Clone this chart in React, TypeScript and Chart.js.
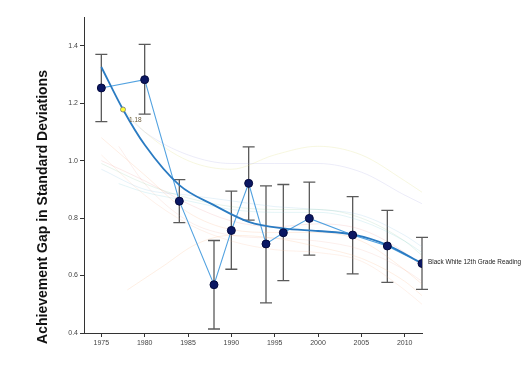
import React, { useEffect, useRef } from "react";
import { Chart, registerables } from "chart.js";

Chart.register(...registerables);

const years = [1975, 1980, 1984, 1988, 1990, 1992, 1994, 1996, 1999, 2004, 2008, 2012];
const gapValues = [1.253, 1.282, 0.859, 0.568, 0.757, 0.921, 0.71, 0.749, 0.799, 0.741, 0.703, 0.642];
const errHigh = [1.37, 1.405, 0.934, 0.722, 0.894, 1.048, 0.912, 0.917, 0.925, 0.875, 0.827, 0.733];
const errLow = [1.136, 1.162, 0.784, 0.414, 0.622, 0.793, 0.505, 0.582, 0.671, 0.606, 0.576, 0.552];

const smoothYears = [1975, 1977.5, 1980, 1984, 1988, 1992, 1996, 2000, 2004, 2008, 2012];
const smoothValues = [1.326, 1.178, 1.055, 0.915, 0.845, 0.787, 0.764, 0.755, 0.743, 0.706, 0.642];

const hoverYear = 1977.5;
const hoverValue = 1.178;
const hoverLabel = "1.18";
const seriesLabel = "Black White 12th Grade Reading";
const yTitle = "Achievement Gap in Standard Deviations";

const xTicks = [1975, 1980, 1985, 1990, 1995, 2000, 2005, 2010];
const yTicks = [0.4, 0.6, 0.8, 1.0, 1.2, 1.4];

// faint background series
const bgYears1 = [1977.5, 1980, 1985, 1990, 1995, 2000, 2005, 2010, 2012];
const bgPurple = [1.17, 1.1, 1.02, 0.99, 0.99, 0.99, 0.96, 0.88, 0.85];
const bgYellow = [1.18, 1.1, 1.0, 0.97, 1.02, 1.05, 1.02, 0.93, 0.89];
const bgYears2 = [1975, 1980, 1985, 1990, 1995, 2000, 2005, 2010, 2012];
const bgOrange = [1.08, 0.95, 0.82, 0.76, 0.75, 0.75, 0.72, 0.62, 0.57];
const bgRed = [1.0, 0.93, 0.85, 0.79, 0.77, 0.78, 0.76, 0.68, 0.63];
const bgGreen = [0.99, 0.92, 0.87, 0.84, 0.83, 0.83, 0.8, 0.72, 0.67];
const bgBlue = [0.97, 0.9, 0.88, 0.86, 0.84, 0.83, 0.81, 0.74, 0.7];
const bgPeach = [1.02, 0.88, 0.78, 0.72, 0.69, 0.68, 0.65, 0.55, 0.5];
const bgYears3 = [1977, 1980, 1985, 1990, 1995, 2000, 2005, 2010, 2012];
const bgCyan = [0.92, 0.89, 0.86, 0.83, 0.82, 0.82, 0.79, 0.72, 0.68];
const bgSalmon = [1.05, 0.92, 0.79, 0.74, 0.73, 0.72, 0.69, 0.62, 0.58];
const bgYears4 = [1978, 1982, 1986, 1990, 1995, 2000, 2005, 2010, 2012];
const bgOrangeLow = [0.55, 0.63, 0.71, 0.74, 0.73, 0.7, 0.66, 0.58, 0.53];

const FONT = "'Liberation Sans', Arial, sans-serif";

const pts = (xs: number[], ys: number[]) => xs.map((x, i) => ({ x, y: ys[i] }));

const faint = (xs: number[], ys: number[], color: string) => ({
  type: "line" as const,
  data: pts(xs, ys),
  borderColor: color,
  borderWidth: 1,
  pointRadius: 0,
  cubicInterpolationMode: "monotone" as const,
  fill: false,
});

export default function App() {
  const ref = useRef<HTMLCanvasElement | null>(null);

  useEffect(() => {
    if (!ref.current) return;

    const overlay = {
      id: "overlay",
      beforeDatasetsDraw(chart: any) {
        const ctx = chart.ctx;
        const xs = chart.scales.x;
        const ys = chart.scales.y;
        ctx.save();
        ctx.strokeStyle = "#5a5a5a";
        ctx.lineWidth = 1.3;
        years.forEach((yr, i) => {
          const px = xs.getPixelForValue(yr);
          const top = ys.getPixelForValue(errHigh[i]);
          const bot = ys.getPixelForValue(errLow[i]);
          ctx.beginPath();
          ctx.moveTo(px, top);
          ctx.lineTo(px, bot);
          ctx.moveTo(px - 6, top);
          ctx.lineTo(px + 6, top);
          ctx.moveTo(px - 6, bot);
          ctx.lineTo(px + 6, bot);
          ctx.stroke();
        });
        ctx.restore();
      },
      afterDraw(chart: any) {
        const ctx = chart.ctx;
        const xs = chart.scales.x;
        const ys = chart.scales.y;
        ctx.save();
        const hx = xs.getPixelForValue(hoverYear);
        const hy = ys.getPixelForValue(hoverValue);
        ctx.beginPath();
        ctx.arc(hx, hy, 2.5, 0, Math.PI * 2);
        ctx.fillStyle = "#ffff33";
        ctx.fill();
        ctx.strokeStyle = "#777";
        ctx.lineWidth = 0.8;
        ctx.stroke();
        ctx.fillStyle = "#6a5a3a";
        ctx.font = `6.5px ${FONT}`;
        ctx.textAlign = "left";
        ctx.textBaseline = "middle";
        ctx.fillText(hoverLabel, hx + 6, hy + 11);
        const lx = xs.getPixelForValue(years[years.length - 1]);
        const ly = ys.getPixelForValue(gapValues[gapValues.length - 1]);
        ctx.fillStyle = "#222";
        ctx.font = `6.4px ${FONT}`;
        ctx.fillText(seriesLabel, lx + 6, ly - 1.5);
        ctx.translate(43, 207);
        ctx.rotate(-Math.PI / 2);
        ctx.textAlign = "center";
        ctx.fillStyle = "#111";
        ctx.font = `bold 14px ${FONT}`;
        ctx.fillText(yTitle, 0, 0);
        ctx.restore();
      },
    };

    const chart = new Chart(ref.current, {
      type: "line",
      data: {
        datasets: [
          {
            type: "line",
            data: pts(years, gapValues),
            showLine: false,
            pointRadius: 4,
            pointBackgroundColor: "#0b1763",
            pointBorderColor: "#03093d",
            pointBorderWidth: 1,
          } as any,
          {
            type: "line",
            data: pts(smoothYears, smoothValues),
            borderColor: "#2a7bc2",
            borderWidth: 1.8,
            pointRadius: 0,
            cubicInterpolationMode: "monotone",
            fill: false,
          },
          {
            type: "line",
            data: pts(years, gapValues),
            borderColor: "#52a2e0",
            borderWidth: 1.1,
            pointRadius: 0,
            tension: 0,
            fill: false,
          },
          faint(bgYears1, bgPurple, "rgba(160,160,225,0.2)"),
          faint(bgYears1, bgYellow, "rgba(225,225,130,0.25)"),
          faint(bgYears2, bgOrange, "rgba(250,170,120,0.2)"),
          faint(bgYears2, bgRed, "rgba(230,130,130,0.17)"),
          faint(bgYears2, bgGreen, "rgba(120,190,140,0.17)"),
          faint(bgYears2, bgBlue, "rgba(130,190,225,0.2)"),
          faint(bgYears2, bgPeach, "rgba(250,185,150,0.2)"),
          faint(bgYears3, bgCyan, "rgba(120,205,215,0.2)"),
          faint(bgYears3, bgSalmon, "rgba(240,160,140,0.17)"),
          faint(bgYears4, bgOrangeLow, "rgba(250,180,130,0.22)"),
        ],
      },
      options: {
        responsive: false,
        animation: false,
        devicePixelRatio: 1,
        layout: { padding: { top: 17, right: 107, left: 0, bottom: 0 } },
        plugins: { legend: { display: false }, tooltip: { enabled: false } },
        events: [],
        scales: {
          x: {
            type: "linear",
            min: 1973,
            max: 2012,
            afterBuildTicks: (s: any) => {
              s.ticks = xTicks.map((v) => ({ value: v }));
            },
            afterFit: (s: any) => {
              s.height = 35;
            },
            ticks: {
              callback: (v: any) => String(v),
              font: { size: 7, family: FONT },
              color: "#444",
              padding: 2,
              maxRotation: 0,
              autoSkip: false,
            },
            grid: { drawOnChartArea: false, drawTicks: true, tickLength: 4, color: "#333" },
            border: { display: true, color: "#333", width: 1 },
          },
          y: {
            type: "linear",
            min: 0.4,
            max: 1.5,
            afterBuildTicks: (s: any) => {
              s.ticks = yTicks.map((v) => ({ value: v }));
            },
            afterFit: (s: any) => {
              s.width = 84;
            },
            ticks: {
              callback: (v: any) => Number(v).toFixed(1),
              font: { size: 7, family: FONT },
              color: "#444",
              padding: 2,
            },
            grid: { drawOnChartArea: false, drawTicks: true, tickLength: 4, color: "#333" },
            border: { display: true, color: "#333", width: 1 },
          },
        },
      },
      plugins: [overlay],
    } as any);

    return () => chart.destroy();
  }, []);

  return (
    <div style={{ position: "fixed", left: 0, top: 0, width: 529, height: 368, background: "#fff" }}>
      <canvas ref={ref} width={529} height={368} style={{ width: 529, height: 368, display: "block" }} />
    </div>
  );
}
